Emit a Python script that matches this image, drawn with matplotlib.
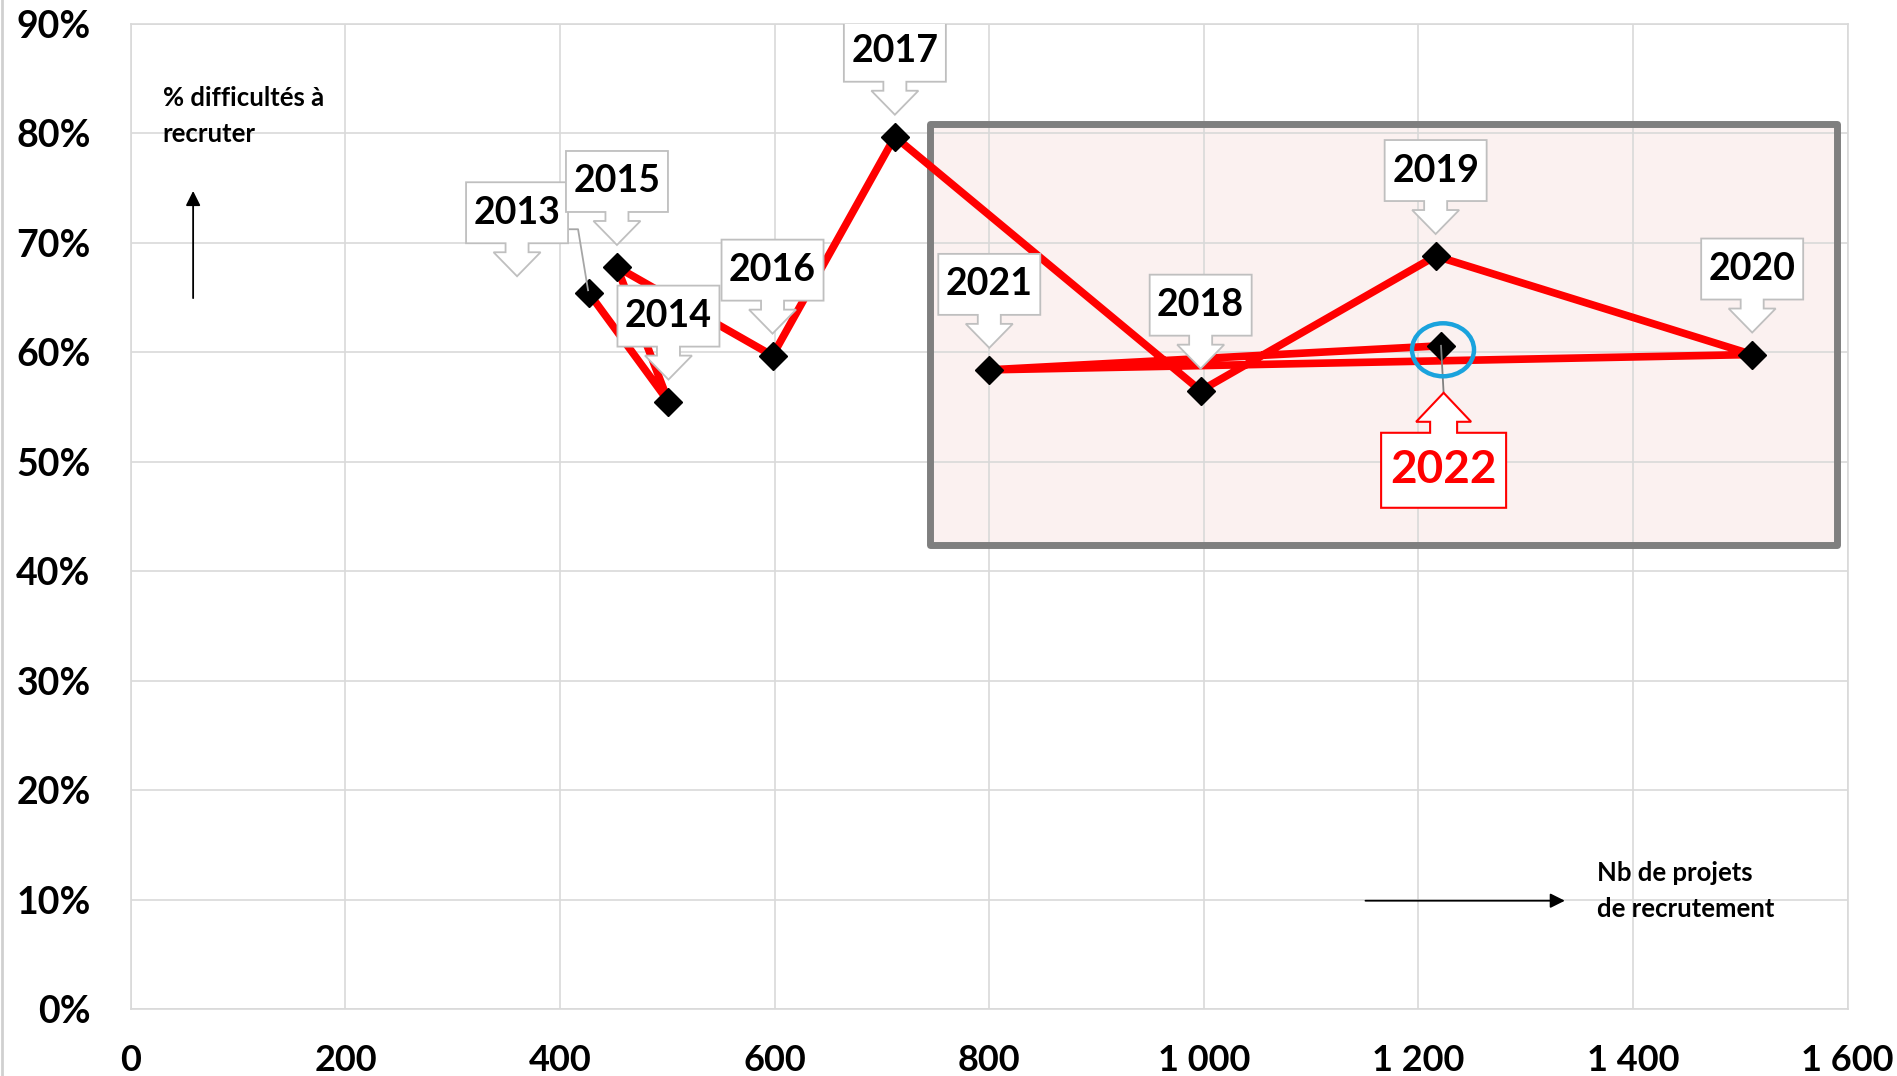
import matplotlib
matplotlib.use('Agg')
import matplotlib.pyplot as plt
from matplotlib.patches import Polygon, Rectangle, Ellipse
from matplotlib.lines import Line2D
from matplotlib.transforms import Affine2D, ScaledTranslation

plt.rcParams['font.family'] = ['Lato', 'DejaVu Sans']

# data
years = ['2013', '2014', '2015', '2016', '2017', '2018', '2019', '2020', '2021', '2022']
projets = [427, 501, 453, 598, 712, 997, 1216, 1511, 800, 1221]
difficultes = [65.4, 55.5, 67.8, 59.7, 79.7, 56.5, 68.8, 59.8, 58.4, 60.6]

x_ticks = [0, 200, 400, 600, 800, 1000, 1200, 1400, 1600]
y_ticks = [0, 10, 20, 30, 40, 50, 60, 70, 80, 90]

GRID = '#d9d9d9'
CALLOUT = '#bfbfbf'

fig = plt.figure(figsize=(18.97, 10.76), dpi=100)
ax = fig.add_axes([0.069, 0.0622, 0.905, 0.9155])
ax.set_xlim(0, 1600)
ax.set_ylim(0, 90)

ax.set_xticks(x_ticks)
ax.set_xticklabels(['{:,}'.format(v).replace(',', ' ') for v in x_ticks])
ax.set_yticks(y_ticks)
ax.set_yticklabels(['{}%'.format(v) for v in y_ticks])
ax.tick_params(length=0, labelsize=26)
ax.tick_params(axis='y', pad=29, labelsize=27)
ax.tick_params(axis='x', pad=25)
for lab in ax.get_xticklabels() + ax.get_yticklabels():
    lab.set_fontweight('bold')

ax.grid(True, color=GRID, lw=1.2)
ax.set_axisbelow(True)
for s in ax.spines.values():
    s.set_color(GRID)
    s.set_linewidth(1.2)

# highlighted zone
ax.add_patch(Rectangle((745, 42.4), 845, 38.5, facecolor='#fbf1f0', edgecolor='none', zorder=0.2))
ax.add_patch(Rectangle((745, 42.4), 845, 38.5, facecolor='none', edgecolor='#7f7f7f',
                       lw=5, joinstyle='round', zorder=1.5))

# main series
ax.plot(projets, difficultes, color='#ff0000', lw=5.5, zorder=2, solid_joinstyle='round')
ax.plot(projets, difficultes, ls='none', marker='D', ms=14, color='black', zorder=3)


def pix(x, y, dx=0, dy=0):
    return Affine2D().translate(dx, dy) + ScaledTranslation(x, y, ax.transData)


def callout(x, y, label, dx=0, dy=22, leader=None):
    hw, sw, hh, sh, bw, bh = 23.5, 11.5, 24, 9, 102, 61
    verts = [(0, 0), (hw, hh), (sw, hh), (sw, hh + sh), (bw / 2, hh + sh), (bw / 2, hh + sh + bh),
             (-bw / 2, hh + sh + bh), (-bw / 2, hh + sh), (-sw, hh + sh), (-sw, hh), (-hw, hh)]
    t = pix(x, y, dx, dy)
    ax.add_patch(Polygon(verts, closed=True, facecolor='white', edgecolor=CALLOUT,
                         lw=1.3, transform=t, zorder=5))
    ax.text(0, hh + sh + bh / 2, label, transform=t, ha='center', va='center',
            fontsize=27, fontweight='bold', color='black', zorder=6)
    if leader is not None:
        xs, ys = zip(*leader)
        ax.add_line(Line2D(xs, ys, color='#a6a6a6', lw=1.3, transform=pix(x, y), zorder=4))


def callout_up(x, y, label, dx=2.6, dy=-47):
    hw, sw, hh, sh, bw, bh = 27.5, 13.5, 29, 11, 125, 75
    verts = [(0, 0), (hw, -hh), (sw, -hh), (sw, -hh - sh), (bw / 2, -hh - sh), (bw / 2, -hh - sh - bh),
             (-bw / 2, -hh - sh - bh), (-bw / 2, -hh - sh), (-sw, -hh - sh), (-sw, -hh), (-hw, -hh)]
    t = pix(x, y, dx, dy)
    ax.add_patch(Polygon(verts, closed=True, facecolor='white', edgecolor='#ff0000',
                         lw=1.5, transform=t, zorder=5))
    ax.text(0, -hh - sh - bh / 2, label, transform=t, ha='center', va='center',
            fontsize=33, fontweight='bold', color='#ff0000', zorder=6)
    ax.add_line(Line2D([dx, 0], [dy, 0], color='#808080', lw=1.3, transform=pix(x, y), zorder=4))


for yr, px_, py_ in zip(years, projets, difficultes):
    if yr == '2013':
        callout(px_, py_, yr, dx=-72, dy=17, leader=[(-22, 64), (-11, 64), (-1, 3)])
    elif yr == '2022':
        callout_up(px_, py_, yr)
        ax.add_patch(Ellipse((2, -4), 62, 53, facecolor='none', edgecolor='#1aa3dd', lw=3.2,
                             transform=pix(px_, py_), zorder=4.5))
    else:
        callout(px_, py_, yr)

# axis hints
ax.annotate('', xy=(58, 75), xytext=(58, 64.7),
            arrowprops=dict(arrowstyle='-|>', color='black', lw=1.3, mutation_scale=22))
ax.text(29.5, 84.3, '% difficultés à\nrecruter', ha='left', va='top', fontsize=18.5,
        fontweight='bold', linespacing=1.6)
ax.annotate('', xy=(1339, 9.9), xytext=(1148, 9.9),
            arrowprops=dict(arrowstyle='-|>', color='black', lw=1.3, mutation_scale=22))
ax.text(1366, 13.5, 'Nb de projets\nde recrutement', ha='left', va='top', fontsize=18.5,
        fontweight='bold', linespacing=1.6)

fig.add_artist(Line2D([0.001, 0.001], [0, 1], color='#d0d0d0', lw=2, transform=fig.transFigure))

fig.savefig('out.png', dpi=100)
